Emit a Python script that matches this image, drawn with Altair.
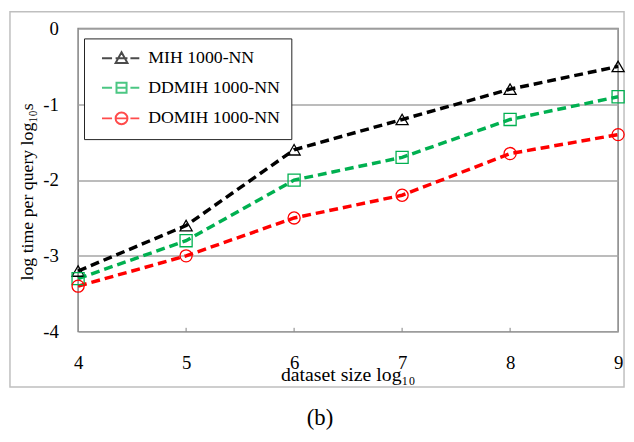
import altair as alt
import pandas as pd

# ---- data ----
sizes = [4, 5, 6, 7, 8, 9]
series_names = ["MIH 1000-NN", "DDMIH 1000-NN", "DOMIH 1000-NN"]
mih = [-3.2, -2.6, -1.6, -1.2, -0.8, -0.5]
ddmih = [-3.3, -2.8, -2.0, -1.7, -1.2, -0.9]
domih = [-3.4, -3.0, -2.5, -2.2, -1.65, -1.4]
colors = ["#000000", "#00b050", "#ff0000"]
shapes = ["triangle-up", "square", "circle"]
x_ticks = [4, 5, 6, 7, 8, 9]
y_ticks = [-4, -3, -2, -1, 0]
inner_ticks = [5, 6, 7, 8]

# legend symbols: dash - marker - dash
legend_paths = [
    "M-3.3,0H-1.6M1.5,0H3M-1,0H1M0,-1L1,0.8L-1,0.8Z",
    "M-3.3,0H-1.6M1.5,0H3M-1,0H1M-0.85,-0.85H0.85V0.85H-0.85Z",
    "M-3.3,0H-1.6M1.5,0H3M-1,0H1M1,0A1,1,0,1,1,-1,0A1,1,0,1,1,1,0Z",
]

rows = []
for name, vals in zip(series_names, [mih, ddmih, domih]):
    for s, v in zip(sizes, vals):
        rows.append({"size": s, "time": v, "series": name})
df = pd.DataFrame(rows)

FONT = "Liberation Serif"

x_enc = alt.X(
    "size:Q",
    scale=alt.Scale(domain=[4, 9], nice=False, zero=False),
    axis=alt.Axis(
        values=x_ticks, title="dataset size log₁₀", grid=False, ticks=False,
        domain=False, labelFont=FONT, labelFontSize=19, labelColor="black",
        labelPadding=22, labelFlush=False, labelExpr="datum.value + ''",
        titleFont=FONT, titleFontSize=20, titleFontWeight="normal", titleColor="black",
        titleX=273, titleY=50, titleAlign="center", titleBaseline="alphabetic",
    ),
)
y_enc = alt.Y(
    "time:Q",
    scale=alt.Scale(domain=[-4, 0], nice=False, zero=False),
    axis=alt.Axis(
        values=y_ticks, title="log time per query log₁₀s", grid=True,
        gridColor="#a6a6a6", gridWidth=1.5, ticks=False, domain=False,
        labelFont=FONT, labelFontSize=19, labelColor="black", labelPadding=20,
        labelExpr="datum.value + ''",
        titleFont=FONT, titleFontSize=18, titleFontWeight="normal", titleColor="black",
        titleAngle=270, titleX=-46, titleY=165, titleAlign="center",
        titleBaseline="alphabetic",
    ),
)

color_plain = alt.Color(
    "series:N", scale=alt.Scale(domain=series_names, range=colors), legend=None
)

base = alt.Chart(df)

lines = base.mark_line(strokeDash=[9, 5], strokeWidth=3.5).encode(
    x=x_enc, y=y_enc, color=color_plain
)

points = base.mark_point(filled=False, size=150, strokeWidth=1.3, opacity=1).encode(
    x="size:Q",
    y="time:Q",
    color=color_plain,
    shape=alt.Shape("series:N", scale=alt.Scale(domain=series_names, range=shapes), legend=None),
)

legend_props = dict(
    title=None, orient="none", legendX=6, legendY=10,
    strokeColor="#222222", fillColor="white", padding=11,
    rowPadding=11, symbolOffset=18, labelOffset=18,
    labelFont=FONT, labelFontSize=18, labelColor="black",
    symbolSize=144, symbolStrokeWidth=2,
)

legend_layer = base.transform_filter("false").mark_point(filled=False).encode(
    x="size:Q",
    y="time:Q",
    color=alt.Color(
        "series:N",
        scale=alt.Scale(domain=series_names, range=colors),
        legend=alt.Legend(**legend_props),
    ),
    shape=alt.Shape(
        "series:N",
        scale=alt.Scale(domain=series_names, range=legend_paths),
        legend=alt.Legend(**legend_props),
    ),
)

tick_df = pd.DataFrame({"x": inner_ticks, "y0": [-4] * 4, "y1": [-3.95] * 4})
inner = alt.Chart(tick_df).mark_rule(color="#808080", strokeWidth=1).encode(
    x="x:Q", y="y0:Q", y2="y1:Q"
)

one = pd.DataFrame({"a": [0]})
frame = alt.Chart(one).mark_rect(
    fillOpacity=0, stroke="#bfbfbf", strokeWidth=1.5
).encode(
    x=alt.value(-69), x2=alt.value(553), y=alt.value(-17), y2=alt.value(363)
)
caption = alt.Chart(one).mark_text(
    text="(b)", font=FONT, fontSize=23, color="black", baseline="alphabetic", align="center"
).encode(x=alt.value(245), y=alt.value(402))

chart = (
    alt.layer(frame, inner, lines, points, legend_layer, caption)
    .resolve_scale(color="independent", shape="independent")
    .properties(
        width=547, height=307,
        autosize=alt.AutoSizeParams(type="none"),
        padding={"left": 71, "top": 18, "right": 8, "bottom": 109},
        background="white",
    )
    .configure_view(stroke="#808080", strokeWidth=1.5)
)

chart.save("out.html", embed_options={"renderer": "svg", "actions": False})
